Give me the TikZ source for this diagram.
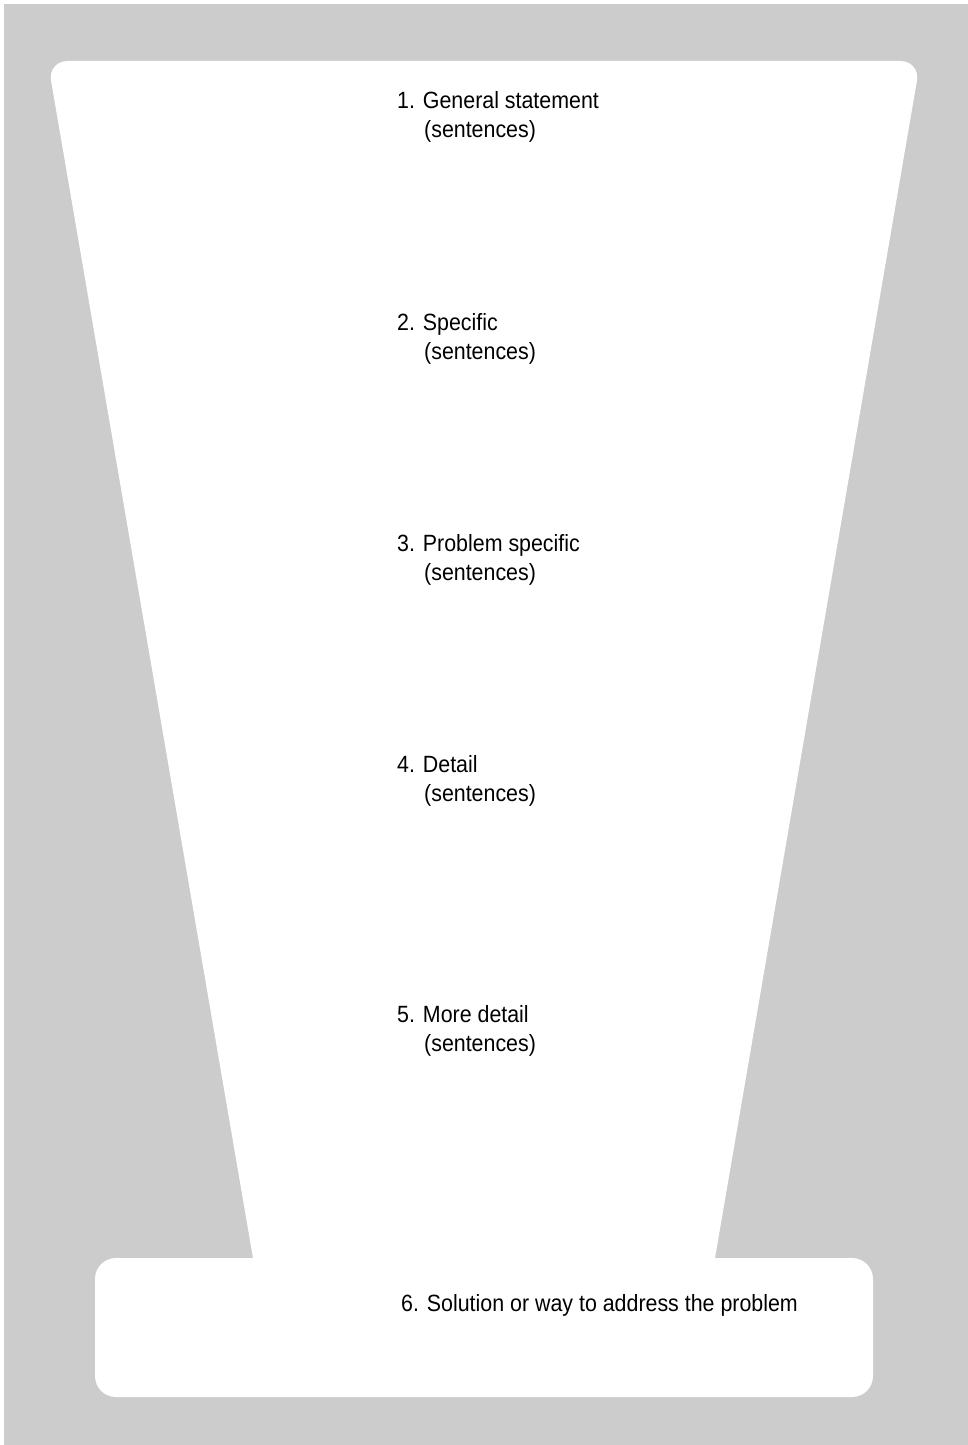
\documentclass[tikz,border=0pt]{standalone}
\usepackage{fontspec}
\setmainfont{Liberation Sans}[FakeStretch=0.91]
\definecolor{bggray}{HTML}{CCCCCC}
\definecolor{inkc}{HTML}{000000}
\begin{document}
\begin{tikzpicture}[x=1pt,y=-1pt,
  lbl/.style={anchor=base west,inner sep=0pt,align=left,text=inkc,
    font={\fontsize{23.5}{29}\selectfont}},
  shapefill/.style={fill=white}]
\useasboundingbox (0,0) rectangle (968,1445);
\fill[white] (0,0) rectangle (968,1445);
\fill[bggray] (4,4) rectangle (968,1445);
% funnel
\fill[shapefill,rounded corners=20] (260.2,1300) -- (47.7,61) -- (920.3,61) -- (707.8,1300) -- cycle;
% bottom box
\fill[shapefill,rounded corners=21] (95,1258) rectangle (873,1397);
% labels (base anchor = baseline of the last line)
\node[lbl] (l1) at (397,137) {1. General statement\\\hspace*{27pt}(sentences)};
\node[lbl] (l2) at (397,359) {2. Specific\\\hspace*{27pt}(sentences)};
\node[lbl] (l3) at (397,580) {3. Problem specific\\\hspace*{27pt}(sentences)};
\node[lbl] (l4) at (397,801) {4. Detail\\\hspace*{27pt}(sentences)};
\node[lbl] (l5) at (397,1051) {5. More detail\\\hspace*{27pt}(sentences)};
\node[lbl] (l6) at (401,1311) {6. Solution or way to address the problem};
\end{tikzpicture}
\end{document}
